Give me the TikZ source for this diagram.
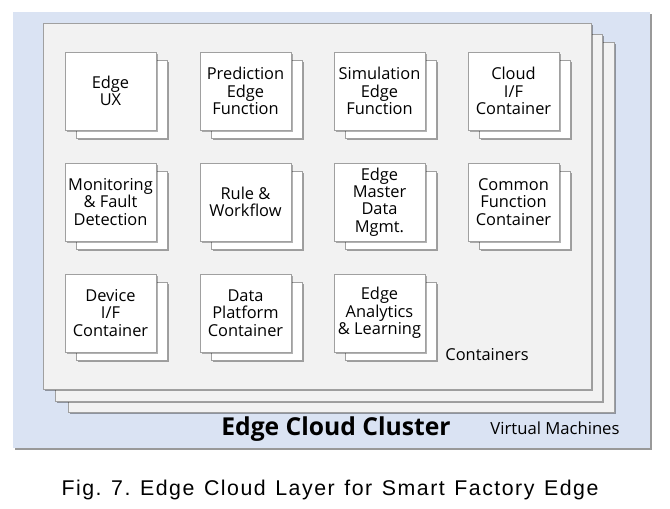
\documentclass[tikz,border=0pt]{standalone}
\usepackage{fontspec}
\setmainfont{Open Sans}
\newfontfamily\capfont{Liberation Sans}[LetterSpace=7, WordSpace=1.3]
\usetikzlibrary{shadows}

\definecolor{clusterblue}{RGB}{218,227,243}
\definecolor{panelgray}{RGB}{242,242,242}
\definecolor{linegray}{RGB}{160,160,160}

\begin{document}
\begin{tikzpicture}[
  x=0.75pt, y=-0.75pt,
  vm/.style={fill=panelgray, draw=linegray,
    drop shadow={shadow xshift=1.5pt, shadow yshift=-1.5pt, fill=black, opacity=0.35}},
  ctr/.style={draw=linegray, fill=white, align=center, inner sep=1pt,
    minimum width=68.25pt, minimum height=58.5pt,
    font=\fontsize{12.3}{13}\selectfont,
    drop shadow={shadow xshift=9.75pt, shadow yshift=-7.5pt, fill=black, opacity=0.35},
    copy shadow={shadow xshift=8.25pt, shadow yshift=-6pt, draw=linegray, fill=white},
    drop shadow={shadow xshift=1.5pt, shadow yshift=-1.5pt, fill=black, opacity=0.3}},
]

\useasboundingbox (0,0) rectangle (670,509);

\fill [clusterblue, drop shadow={shadow xshift=1.5pt, shadow yshift=-1.5pt, fill=black, opacity=0.4}]
  (13,12) rectangle (650,448);

\draw [vm] (68,42) rectangle (614,412);
\draw [vm] (55,34) rectangle (602,401);
\draw [vm] (43,23) rectangle (591,389);

\node [ctr] (ux) at (110.5,91) {Edge\\UX};
\node [ctr] (pred) at (245.5,91) {Prediction\\Edge\\Function};
\node [ctr] (sim) at (379.5,91) {Simulation\\Edge\\Function};
\node [ctr] (cloudif) at (513.5,91) {Cloud\\I/F\\Container};

\node [ctr] (mon) at (110.5,202) {Monitoring\\\& Fault\\Detection};
\node [ctr] (rule) at (245.5,202) {Rule \&\\Workflow};
\node [ctr] (master) at (379.5,202) {Edge\\Master\\Data\\Mgmt.};
\node [ctr] (common) at (513.5,202) {Common\\Function\\Container};

\node [ctr] (devif) at (110.5,313) {Device\\I/F\\Container};
\node [ctr] (platform) at (245.5,313) {Data\\Platform\\Container};
\node [ctr] (analytics) at (379.5,313) {Edge\\Analytics\\\& Learning};

\node [font=\fontsize{12.3}{14}\selectfont] (containers) at (487,355) {Containers};
\node [font=\fontsize{18.5}{20}\selectfont\bfseries] (cluster) at (336,429) {Edge Cloud Cluster};
\node [font=\fontsize{12.5}{14}\selectfont] (vms) at (555,428) {Virtual Machines};

\node [font=\fontsize{16}{18}\capfont] (caption) at (330,490) {Fig.\ 7.\ Edge Cloud Layer for Smart Factory Edge};

\end{tikzpicture}
\end{document}
